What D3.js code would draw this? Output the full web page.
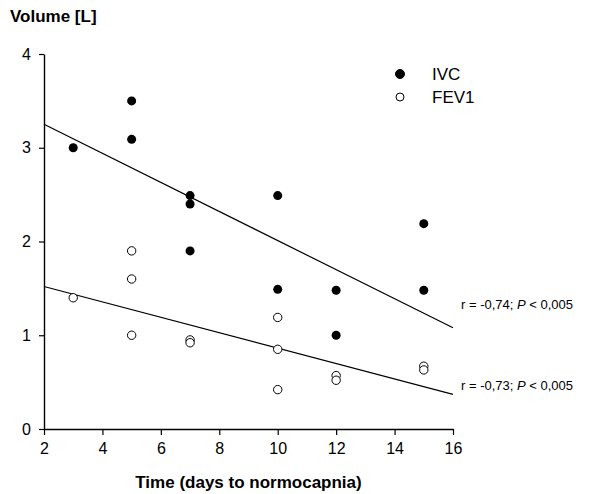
<!DOCTYPE html>
<html>
<head>
<meta charset="utf-8">
<script src="https://cdn.jsdelivr.net/npm/d3@7"></script>
<style>
  body { margin: 0; background: #fff; }
  text { font-family: Arial, "Liberation Sans", sans-serif; }
</style>
</head>
<body>
<div id="chart"></div>
<script>
  //=========================================================================
  // Data
  //=========================================================================

  const ivcDays = [3, 5, 5, 7, 7, 7, 10, 10, 12, 12, 15, 15];
  const ivcVolume = [3.0, 3.5, 3.09, 2.49, 2.4, 1.9, 2.49, 1.49, 1.48, 1.0, 2.19, 1.48];

  const fevDays = [3, 5, 5, 5, 7, 7, 10, 10, 10, 12, 12, 15, 15];
  const fevVolume = [1.4, 1.9, 1.6, 1.0, 0.95, 0.92, 1.19, 0.85, 0.42, 0.57, 0.52, 0.67, 0.63];

  // regression lines, end points
  const ivcFit = [[2, 3.25], [16, 1.08]];
  const fevFit = [[2, 1.52], [16, 0.37]];

  const xTicks = [2, 4, 6, 8, 10, 12, 14, 16];
  const yTicks = [0, 1, 2, 3, 4];

  const seriesNames = ["IVC", "FEV1"];
  const statLabels = ["r = -0,74; ", "r = -0,73; "];
  const statLabelY = [1.28, 0.42];

  //=========================================================================
  // Set Dimensions
  //=========================================================================

  var width = 591,
      height = 494;

  var svg = d3.select("#chart")
    .append("svg")
    .attr("width", width)
    .attr("height", height);

  var margin = { top: 54, right: 138, bottom: 65, left: 44 },
      iwidth = width - margin.left - margin.right,
      iheight = height - margin.top - margin.bottom;

  var gDrawing = svg.append("g")
    .attr("transform", `translate(${margin.left}, ${margin.top})`);

  //=========================================================================
  // Scales
  //=========================================================================

  var x = d3.scaleLinear().domain([2, 16]).range([0, iwidth]);
  var y = d3.scaleLinear().domain([0, 4]).range([iheight, 0]);

  //=========================================================================
  // Axes
  //=========================================================================

  function style_axis(g){
    g.select(".domain").attr("stroke", "#000").attr("stroke-width", 1.4);
    g.selectAll(".tick line").attr("stroke", "#000").attr("stroke-width", 1.2);
    g.selectAll(".tick text")
      .attr("fill", "#000")
      .style("font-size", "16px")
      .style("font-family", "Arial, 'Liberation Sans', sans-serif");
  }

  gDrawing.append("g")
    .attr("transform", `translate(0,${iheight})`)
    .call(d3.axisBottom(x).tickValues(xTicks).tickSize(6).tickSizeOuter(0).tickPadding(8))
    .call(style_axis);

  gDrawing.append("g")
    .call(d3.axisLeft(y).tickValues(yTicks).tickFormat(d3.format("d"))
      .tickSize(5).tickSizeOuter(0).tickPadding(8))
    .call(style_axis);

  svg.append("text")
    .attr("x", margin.left + iwidth / 2)
    .attr("y", 488)
    .attr("text-anchor", "middle")
    .style("font-size", "17px")
    .style("font-weight", "bold")
    .text("Time (days to normocapnia)");

  svg.append("text")
    .attr("x", 10)
    .attr("y", 22)
    .style("font-size", "17px")
    .style("font-weight", "bold")
    .text("Volume [L]");

  //=========================================================================
  // Regression lines
  //=========================================================================

  var line = d3.line().x((d) => x(d[0])).y((d) => y(d[1]));

  [ivcFit, fevFit].forEach((fit) => {
    gDrawing.append("path")
      .attr("d", line(fit))
      .attr("fill", "none")
      .attr("stroke", "#000")
      .attr("stroke-width", 1.2);
  });

  //=========================================================================
  // Points
  //=========================================================================

  gDrawing.selectAll("circle.ivc")
    .data(d3.zip(ivcDays, ivcVolume))
    .enter()
    .append("circle")
    .attr("class", "ivc")
    .attr("cx", (d) => x(d[0]))
    .attr("cy", (d) => y(d[1]))
    .attr("r", 4.5)
    .attr("fill", "#000");

  gDrawing.selectAll("circle.fev")
    .data(d3.zip(fevDays, fevVolume))
    .enter()
    .append("circle")
    .attr("class", "fev")
    .attr("cx", (d) => x(d[0]))
    .attr("cy", (d) => y(d[1]))
    .attr("r", 4.2)
    .attr("fill", "#fff")
    .attr("stroke", "#000")
    .attr("stroke-width", 1);

  //=========================================================================
  // Correlation labels
  //=========================================================================

  statLabels.forEach((lbl, i) => {
    var t = gDrawing.append("text")
      .attr("x", x(16) + 8)
      .attr("y", y(statLabelY[i]))
      .style("font-size", "13px");
    t.append("tspan").text(lbl);
    t.append("tspan").style("font-style", "italic").text("P");
    t.append("tspan").text(" < 0,005");
  });

  //=========================================================================
  // Legend
  //=========================================================================

  var legend = svg.selectAll("g.legend")
    .data(seriesNames)
    .enter()
    .append("g")
    .attr("class", "legend")
    .attr("transform", (d, i) => `translate(400, ${74 + i * 23})`);

  legend.append("circle")
    .attr("r", (d, i) => i == 0 ? 4.5 : 4)
    .attr("fill", (d, i) => i == 0 ? "#000" : "#fff")
    .attr("stroke", "#000")
    .attr("stroke-width", 1);

  legend.append("text")
    .attr("x", 32)
    .attr("y", 6)
    .style("font-size", "17px")
    .text((d) => d);
</script>
</body>
</html>
